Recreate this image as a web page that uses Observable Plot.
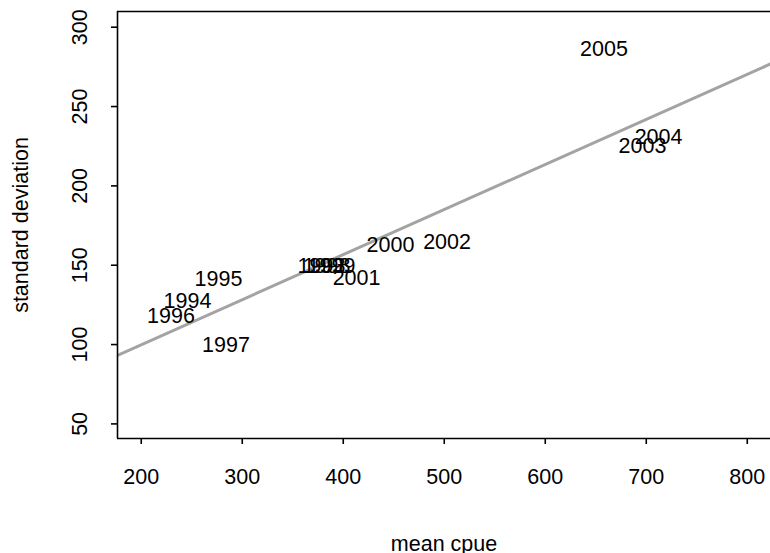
<!DOCTYPE html>
<html>
<head>
<meta charset="utf-8">
<script src="https://cdn.jsdelivr.net/npm/d3@7"></script>
<script src="https://cdn.jsdelivr.net/npm/@observablehq/plot@0.6"></script>
<style>
  html, body { margin: 0; padding: 0; background: #fff; overflow: hidden; }
  svg { display: block; font-family: "Liberation Sans", Arial, Helvetica, sans-serif; }
</style>
</head>
<body>
<div id="chart"></div>
<script>
// Data
const years = ["1994", "1995", "1996", "1997", "1993", "1998", "1999", "2000", "2001", "2002", "2003", "2004", "2005"];
const meanCpue = [245.8, 276.5, 229.5, 283.9, 378.5, 383.5, 388.4, 446.8, 413.2, 502.8, 696.3, 712.2, 658.2];
const stdDev   = [127.3, 141.1, 117.8, 99.6, 149.3, 149.3, 149.3, 162.5, 141.7, 164.7, 224.9, 230.9, 286.0];

// Fitted line coefficients
const fitIntercept = 43.1;
const fitSlope = 0.284;

const xTicks = [200, 300, 400, 500, 600, 700, 800];
const yTicks = [50, 100, 150, 200, 250, 300];
const xDomain = [176.5, 823];
const yDomain = [40.8, 309.9];

const xLabel = "mean cpue";
const yLabel = "standard deviation";

const points = years.map((y, i) => ({year: y, x: meanCpue[i], y: stdDev[i]}));
const fitLine = xDomain.map(x => ({x, y: fitIntercept + fitSlope * x}));

const fs = 21.5;

const chart = Plot.plot({
  width: 770,
  height: 553,
  marginLeft: 117,
  marginRight: 0,
  marginTop: 11,
  marginBottom: 115,
  x: {domain: xDomain, axis: null},
  y: {domain: yDomain, axis: null},
  marks: [
    Plot.line(fitLine, {x: "x", y: "y", stroke: "#a3a3a3", strokeWidth: 3, clip: true}),
    Plot.text(points, {x: "x", y: "y", text: "year", fontSize: fs, fill: "#000"}),
    // frame: left, top, bottom
    Plot.ruleY(yDomain, {stroke: "#000", strokeWidth: 1.6}),
    Plot.ruleX([xDomain[0]], {stroke: "#000", strokeWidth: 1.6}),
    // axes
    Plot.axisX({ticks: xTicks, tickSize: 6, tickPadding: 24, fontSize: fs, stroke: "#000", strokeWidth: 1.6, tickFormat: d => String(d), label: null}),
    Plot.axisY({ticks: yTicks, tickSize: 6, tickFormat: () => "", stroke: "#000", strokeWidth: 1.6, label: null}),
    Plot.text(yTicks, {y: d => d, text: d => String(d), frameAnchor: "left", textAnchor: "middle", lineAnchor: "middle", dx: -37, rotate: -90, fontSize: fs, fill: "#000"}),
    Plot.text([xLabel], {frameAnchor: "bottom", textAnchor: "middle", lineAnchor: "middle", dy: 106, fontSize: fs, fill: "#000"}),
    Plot.text([yLabel], {frameAnchor: "left", textAnchor: "middle", lineAnchor: "middle", dx: -96, rotate: -90, fontSize: fs, fill: "#000"})
  ]
});
document.getElementById("chart").appendChild(chart);
</script>
</body>
</html>
